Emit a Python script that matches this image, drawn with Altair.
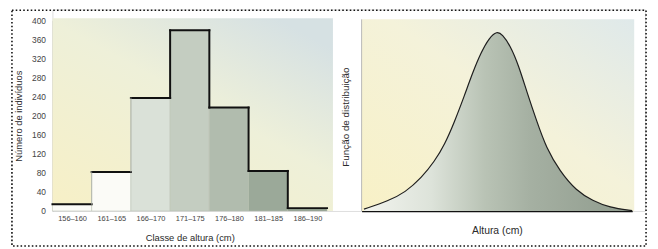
import altair as alt
import pandas as pd

# ---------------- data ----------------
class_labels = ["156–160", "161–165", "166–170", "171–175", "176–180", "181–185", "186–190"]
class_lower = [155.5, 160.5, 165.5, 170.5, 175.5, 180.5, 185.5]
class_upper = [160.5, 165.5, 170.5, 175.5, 180.5, 185.5, 190.5]
counts = [14, 82, 237, 379, 217, 84, 6]
y_ticks = [0, 40, 80, 120, 160, 200, 240, 280, 320, 360, 400]

curve_height = [150.4, 154.6, 157.4, 160.2, 162.4, 164.1, 165.8, 167.5, 168.9, 170.3, 171.7, 173.0,
                173.9, 175.3, 176.7, 178.1, 179.8, 181.4, 183.7, 186.5, 189.3, 192.1, 196.0]
curve_value = [1.0, 5.7, 10.3, 18.5, 27.6, 36.8, 49.6, 64.3, 77.1, 88.1, 96.3, 100.0,
               98.2, 91.8, 80.8, 66.1, 49.6, 35.0, 22.1, 11.2, 5.7, 2.0, 0.2]

left_x_title = "Classe de altura (cm)"
left_y_title = "Número de indivíduos"
right_x_title = "Altura (cm)"
right_y_title = "Função de distribuição"

# ---------------- styles ----------------
FONT = "Liberation Sans"
TXT = "#2a2a2a"
bar_colors = ["#fbfbf7", "#fbfbf7", "#dae1d8", "#c4cdc1", "#b1bcae", "#9ba999", "#8e9c8c"]

hist_df = pd.DataFrame({"classe": class_labels, "lo": class_lower, "hi": class_upper, "n": counts})
mids = [(a + b) / 2 for a, b in zip(class_lower, class_upper)]
steps_df = pd.DataFrame({"lo": class_lower[1:], "n": counts[1:], "prev": counts[:-1]})
curve_df = pd.DataFrame({"h": curve_height, "f": curve_value})
dummy = pd.DataFrame({"k": [0]})

label_expr = "[" + ",".join(f"'{l}'" for l in class_labels) + "][indexof([" + \
    ",".join(f"{m:g}" for m in mids) + "], datum.value)]"

hx_scale = alt.Scale(domain=[155.5, 190.5], range=[0, 278], nice=False, zero=False)
hy_scale = alt.Scale(domain=[0, 400], range=[204, 11], nice=False)

hx_axis = alt.Axis(orient="bottom", values=mids, labelExpr=label_expr, title=left_x_title,
                   domain=False, ticks=False, tickSize=0, grid=False, labelPadding=4,
                   labelFontSize=7.5, labelColor="#444", labelFont=FONT,
                   titleFontSize=9.5, titleFont=FONT, titleColor=TXT, titleFontWeight="normal",
                   titlePadding=10.5)
hy_axis = alt.Axis(orient="left", values=y_ticks, title=left_y_title, domain=True,
                   domainColor="#b9b9b9", domainWidth=1, ticks=False, tickSize=0, grid=False,
                   labelPadding=7, labelFontSize=8.5, labelColor="#444", labelFont=FONT,
                   titleFontSize=9.5, titleFont=FONT, titleColor=TXT, titleFontWeight="normal",
                   titlePadding=8)

hx = alt.X("lo:Q", scale=hx_scale, axis=hx_axis)
hy = alt.Y("n:Q", scale=hy_scale, axis=hy_axis, stack=None)

bars = alt.Chart(hist_df).mark_rect(stroke="#b7bfb4", strokeWidth=0.5).encode(
    x=hx, x2="hi:Q", y=hy, y2=alt.datum(0),
    color=alt.Color("classe:N", scale=alt.Scale(domain=class_labels, range=bar_colors), legend=None),
)
tops = alt.Chart(hist_df).mark_rule(color="#111", strokeWidth=2, strokeCap="square").encode(
    x=hx, x2="hi:Q", y=hy)
# the modal class and the falling steps are outlined in black, the low rising steps only faintly
thick = "datum.n > 300 || datum.n < datum.prev"
risers = alt.Chart(steps_df).mark_rule(strokeCap="square").encode(
    x=hx, y=hy, y2="prev:Q",
    color=alt.condition(thick, alt.value("#111"), alt.value("#a7ada4")),
    strokeWidth=alt.condition(thick, alt.value(2), alt.value(0.8)),
)
hist = alt.layer(bars, tops, risers)

cx_scale = alt.Scale(domain=[150, 196], range=[313, 587], nice=False, zero=False)
cy_scale = alt.Scale(domain=[0, 106.5], range=[204, 10], nice=False)
cx_axis = alt.Axis(orient="bottom", title=right_x_title, labels=False, ticks=False, tickSize=0,
                   grid=False, domain=True, domainColor="#111", domainWidth=1.5,
                   titleFontSize=10.5, titleFont=FONT, titleColor=TXT, titleFontWeight="normal",
                   titlePadding=15)
cx = alt.X("h:Q", scale=cx_scale, axis=cx_axis)
cy = alt.Y("f:Q", scale=cy_scale, axis=None, stack=None)

area_grad = alt.Gradient(
    gradient="linear", x1=0, y1=0, x2=1, y2=0,
    stops=[alt.GradientStop(offset=0, color="#f2f4ee"),
           alt.GradientStop(offset=0.25, color="#dde3da"),
           alt.GradientStop(offset=0.45, color="#b9c3b5"),
           alt.GradientStop(offset=0.62, color="#a5b0a2"),
           alt.GradientStop(offset=1, color="#8f9b8d")])
area = alt.Chart(curve_df).mark_area(interpolate="basis", color=area_grad).encode(x=cx, y=cy)
line = alt.Chart(curve_df).mark_line(interpolate="basis", color="#1e1e1e", strokeWidth=1.2).encode(x=cx, y=cy)
curve = alt.layer(area, line)

bg_left_grad = alt.Gradient(
    gradient="linear", x1=0, y1=1, x2=0.8, y2=0,
    stops=[alt.GradientStop(offset=0, color="#f7f0c6"),
           alt.GradientStop(offset=0.6, color="#eef0d9"),
           alt.GradientStop(offset=1, color="#d6e1e3")])
bg_right_grad = alt.Gradient(
    gradient="linear", x1=0, y1=1, x2=1, y2=0,
    stops=[alt.GradientStop(offset=0, color="#f8f1c6"),
           alt.GradientStop(offset=0.55, color="#f4f2da"),
           alt.GradientStop(offset=1, color="#dfe9ea")])

bg_left = alt.Chart(dummy).mark_rect(color=bg_left_grad).encode(
    x=alt.value(0), x2=alt.value(284), y=alt.value(9), y2=alt.value(204))
bg_right = alt.Chart(dummy).mark_rect(color=bg_right_grad).encode(
    x=alt.value(313), x2=alt.value(589), y=alt.value(10), y2=alt.value(204))
right_edge = alt.Chart(dummy).mark_rule(color="#b9b9b9", strokeWidth=1).encode(
    x=alt.value(313), y=alt.value(10), y2=alt.value(204))

right_title = alt.Chart(pd.DataFrame({"t": [right_y_title]})).mark_text(
    angle=270, fontSize=10, font=FONT, color=TXT, align="center", baseline="middle").encode(
    x=alt.value(297), y=alt.value(109), text="t:N")

border = alt.Chart(dummy).mark_rect(fillOpacity=0, stroke="#111", strokeWidth=1.6,
                                    strokeDash=[1.6, 2.2]).encode(
    x=alt.value(-41), x2=alt.value(601), y=alt.value(0.8), y2=alt.value(239.5))

chart = alt.layer(bg_left, bg_right, right_edge, hist, curve, right_title, border).resolve_scale(
    x="independent", y="independent"
).properties(
    width=600, height=204,
    padding={"left": 45, "top": 0, "right": 5, "bottom": 37},
    autosize=alt.AutoSizeParams(type="none"),
    background="white",
).configure_view(stroke=None).configure(font=FONT)

chart.save("out.html", embed_options={"renderer": "svg", "actions": False})
